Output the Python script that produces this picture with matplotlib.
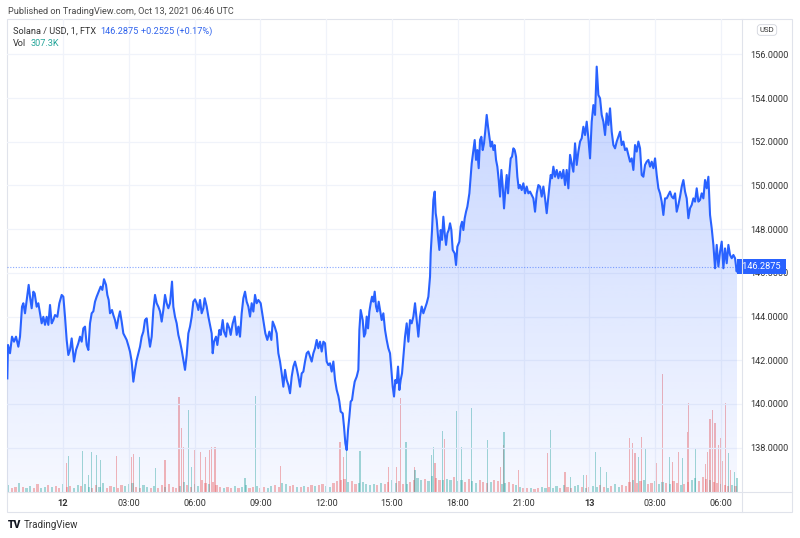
import numpy as np
import matplotlib.pyplot as plt
from matplotlib.lines import Line2D
from matplotlib.patches import Rectangle
import matplotlib.transforms as mtransforms

plt.rcParams["font.family"] = ["Roboto", "DejaVu Sans"]

# price path: hours since Oct 12 00:00 UTC, price in USD
hours = [
    -2.539, -2.508, -2.417, -2.326, -2.235, -2.143, -2.037, -1.961, -1.870, -1.809,
    -1.733, -1.657, -1.566, -1.505, -1.429, -1.353, -1.292, -1.201, -1.125, -1.049,
    -0.973, -0.897, -0.821, -0.745, -0.669, -0.593, -0.517, -0.441, -0.365, -0.259,
    -0.167, -0.061, 0.015, 0.091, 0.167, 0.243, 0.319, 0.395, 0.501, 0.593,
    0.699, 0.775, 0.851, 0.927, 1.003, 1.079, 1.155, 1.231, 1.307, 1.383,
    1.459, 1.535, 1.626, 1.717, 1.793, 1.869, 1.961, 2.021, 2.082, 2.143,
    2.234, 2.295, 2.371, 2.447, 2.523, 2.599, 2.675, 2.751, 2.827, 2.903,
    2.994, 3.055, 3.131, 3.207, 3.283, 3.359, 3.435, 3.511, 3.587, 3.663,
    3.739, 3.815, 3.891, 3.967, 4.043, 4.119, 4.195, 4.271, 4.347, 4.423,
    4.499, 4.575, 4.651, 4.727, 4.803, 4.879, 4.970, 5.031, 5.107, 5.183,
    5.259, 5.335, 5.411, 5.487, 5.563, 5.639, 5.715, 5.791, 5.867, 5.943,
    6.019, 6.095, 6.171, 6.247,
    6.323, 6.399, 6.460, 6.551, 6.627, 6.703, 6.779, 6.825, 6.885, 6.977,
    7.037, 7.129, 7.189, 7.281, 7.341, 7.433, 7.493, 7.585, 7.645, 7.737,
    7.828, 7.919, 7.995, 8.071, 8.147, 8.223, 8.299, 8.375, 8.451, 8.527,
    8.603, 8.679, 8.755, 8.831, 8.907, 9.013, 9.105, 9.165, 9.226, 9.317,
    9.409, 9.500, 9.561, 9.652, 9.743, 9.819, 9.895, 9.971, 10.047, 10.123,
    10.199, 10.275, 10.351, 10.427, 10.503, 10.579, 10.655, 10.731, 10.807, 10.883,
    10.959, 11.035, 11.111, 11.187, 11.263, 11.339, 11.415, 11.491, 11.567, 11.643,
    11.719, 11.795, 11.871, 11.947, 12.023, 12.099, 12.175, 12.251, 12.327, 12.403,
    12.479, 12.555, 12.601, 12.661, 12.753, 12.813, 12.874, 12.935, 12.996, 13.057,
    13.117, 13.178, 13.239, 13.300, 13.391, 13.467, 13.513, 13.573, 13.665, 13.725,
    13.786, 13.847, 13.908, 13.969, 14.029, 14.090, 14.151, 14.212, 14.272, 14.333,
    14.394, 14.455, 14.531, 14.607, 14.683, 14.759, 14.835, 14.911, 14.972, 15.033,
    15.093, 15.154, 15.215, 15.276, 15.337, 15.397, 15.458, 15.519, 15.595, 15.671,
    15.747, 15.823, 15.899, 15.975, 16.051, 16.127, 16.203, 16.279, 16.355, 16.431,
    16.507, 16.583, 16.659, 16.735,
    16.765, 16.826, 16.887, 16.948, 16.993, 17.039, 17.100, 17.161, 17.221, 17.282,
    17.343, 17.404, 17.465, 17.525, 17.586, 17.647, 17.708, 17.769, 17.860, 17.921,
    17.981, 18.073, 18.133, 18.194, 18.255, 18.316, 18.377, 18.437, 18.529, 18.589,
    18.635, 18.711, 18.772, 18.833, 18.893, 18.954, 19.015, 19.076, 19.137, 19.197,
    19.258, 19.319, 19.380, 19.441, 19.501, 19.562, 19.623, 19.684, 19.745, 19.805,
    19.866, 19.927, 19.988, 20.049, 20.109, 20.170, 20.231, 20.292, 20.353, 20.413,
    20.474, 20.535, 20.596, 20.657, 20.717, 20.778, 20.839, 20.915, 20.991, 21.067,
    21.143, 21.219, 21.295, 21.371, 21.447, 21.523, 21.599, 21.675, 21.751, 21.827,
    21.903, 21.979, 22.055, 22.116, 22.177, 22.237, 22.298, 22.359, 22.435, 22.511,
    22.587,
    22.663, 22.739, 22.815, 22.891, 22.967, 23.043, 23.119, 23.195, 23.271, 23.347,
    23.423, 23.499, 23.575, 23.651, 23.727, 23.803, 23.879, 23.955, 24.031, 24.107,
    24.183, 24.259, 24.335, 24.411, 24.487, 24.563, 24.639, 24.715, 24.791, 24.867,
    24.943, 25.019, 25.095, 25.171, 25.247, 25.323, 25.399, 25.475, 25.551, 25.627,
    25.703, 25.779, 25.855, 25.931, 26.007, 26.083, 26.159, 26.235, 26.311, 26.387,
    26.463, 26.539, 26.615, 26.691, 26.767, 26.843, 26.919, 26.995, 27.071, 27.147,
    27.223, 27.299, 27.375, 27.451, 27.527, 27.603, 27.679, 27.755, 27.831, 27.907,
    27.983, 28.059, 28.135, 28.211, 28.287, 28.363, 28.439, 28.515, 28.591, 28.667,
    28.743, 28.819, 28.895, 28.971, 29.047, 29.123, 29.199, 29.275, 29.351, 29.427,
    29.503, 29.579, 29.655, 29.731, 29.807, 29.883, 29.959, 30.035, 30.111, 30.187,
    30.263, 30.339, 30.415, 30.491, 30.567, 30.643, 30.719, 30.740,
]
price = [
    141.17, 142.70, 142.32, 143.08, 142.85, 143.08, 142.62, 143.08, 144.45, 144.61,
    144.15, 144.76, 145.45, 144.91, 144.38, 145.14, 145.06, 144.45, 144.61, 144.15,
    143.69, 143.99, 143.62, 143.99, 143.62, 144.53, 143.69, 143.84, 144.07, 143.99,
    144.61, 144.99, 144.91, 143.99, 142.93, 142.24, 142.47, 143.00, 141.94, 142.47,
    142.78, 143.08, 142.85, 143.46, 143.54, 142.70, 142.47, 143.69, 144.15, 144.24,
    144.68, 144.91, 145.14, 145.37, 145.22, 145.71, 145.45, 144.99, 144.76, 144.15,
    144.30, 144.07, 143.84, 143.46, 143.92, 144.24, 143.77, 143.23, 143.08, 142.93,
    142.62, 142.39, 141.94, 141.02, 141.56, 142.01, 142.32, 142.62, 143.08, 143.31,
    143.84, 143.92, 143.16, 142.62, 143.08, 144.30, 144.99, 144.61, 144.45, 144.24,
    143.77, 144.30, 144.99, 144.61, 144.38, 144.61, 145.60, 144.45, 143.99, 143.69,
    143.16, 142.85, 142.47, 142.01, 141.56, 142.24, 143.23, 143.54, 143.99, 144.68,
    144.79, 144.61, 144.30, 144.76,
    144.15, 144.38, 144.84, 144.46, 144.00, 143.62, 143.23, 142.32, 142.85, 143.08,
    142.70, 143.39, 143.16, 143.84, 143.31, 143.08, 143.69, 143.46, 143.16, 143.69,
    144.00, 143.16, 143.54, 143.08, 144.15, 144.84, 145.14, 144.68, 144.46, 144.00,
    144.61, 144.23, 144.99, 144.61, 144.76, 144.61, 144.00, 143.62, 143.23, 142.93,
    143.31, 142.93, 143.77, 143.54, 143.23, 142.32, 141.94, 141.40, 140.79, 141.56,
    141.10, 140.87, 140.49, 141.25, 141.71, 141.94, 141.63, 141.25, 140.79, 141.40,
    141.48, 141.94, 142.32, 142.40, 142.17, 141.94, 142.32, 142.55, 142.93, 142.55,
    142.85, 142.40, 142.85, 142.78, 141.94, 141.78, 141.86, 141.48, 141.94, 141.10,
    140.64, 140.36, 140.11, 139.65, 139.57, 138.96, 138.20, 137.89, 138.81, 139.42,
    140.11, 140.18, 140.64, 141.02, 141.25, 141.56, 143.39, 144.30, 143.84, 143.08,
    143.23, 144.00, 143.46, 144.23, 144.61, 144.91, 144.68, 145.14, 144.46, 144.23,
    144.68, 144.30, 143.84, 144.15, 143.39, 142.93, 142.55, 142.32, 141.56, 140.79,
    140.34, 141.10, 140.95, 141.71, 140.64, 141.10, 141.40, 142.17, 143.08, 143.69,
    142.85, 143.84, 143.69, 144.00, 144.61, 143.84, 143.08, 144.00, 144.46, 144.15,
    144.38, 144.61, 144.91, 145.83,
    146.89, 147.96, 149.34, 149.72, 148.73, 148.42, 147.66, 147.05, 147.96, 147.51,
    148.57, 147.81, 147.28, 147.81, 147.96, 148.27, 147.96, 147.05, 146.89, 146.36,
    147.20, 147.43, 148.12, 148.34, 147.96, 148.50, 148.80, 149.03, 149.64, 150.40,
    151.01, 151.62, 152.08, 151.17, 151.62, 150.79, 152.08, 152.23, 151.62, 151.93,
    152.54, 153.23, 152.69, 152.23, 151.78, 152.01, 151.62, 151.85, 151.17, 150.86,
    150.25, 149.49, 150.71, 149.95, 148.95, 149.79, 150.48, 149.64, 150.56, 151.24,
    151.32, 151.70, 151.62, 151.32, 150.40, 149.87, 150.02, 149.79, 150.10, 149.64,
    149.95, 149.64, 149.72, 149.56, 149.41, 148.80, 149.64, 150.02, 149.95, 149.49,
    149.95, 149.41, 148.73, 149.34, 149.95, 150.48, 150.33, 150.86, 150.40, 150.71,
    150.33,
    150.63, 150.33, 150.71, 150.02, 150.71, 149.87, 151.40, 151.01, 150.63, 151.93,
    150.94, 151.55, 152.01, 152.16, 152.69, 152.31, 152.92, 152.16, 151.24, 152.92,
    153.68, 153.23, 155.44, 154.14, 153.99, 153.23, 152.92, 152.31, 153.30, 152.77,
    153.53, 152.46, 151.85, 151.70, 152.01, 152.24, 152.46, 151.85, 152.01, 151.62,
    151.70, 151.40, 151.09, 151.24, 150.71, 151.85, 151.55, 152.01, 151.70, 150.48,
    150.40, 150.94, 151.09, 151.17, 150.86, 151.09, 150.79, 151.24, 150.48, 149.87,
    149.64, 149.26, 148.65, 149.41, 149.41, 149.57, 149.72, 149.49, 149.41, 149.64,
    148.80, 149.11, 149.49, 149.95, 150.25, 149.72, 149.41, 148.50, 148.96, 149.11,
    149.41, 149.26, 149.87, 149.26, 149.34, 149.64, 149.41, 150.25, 149.87, 150.40,
    148.65, 148.04, 147.28, 146.21, 147.28, 146.29, 146.97, 147.43, 146.21, 147.12,
    146.44, 147.28, 146.82, 146.67, 146.82, 146.67, 146.06, 146.2875,
]
assert len(hours) == len(price)

last_price = 146.2875

# background volume (thousands), one bar per 10 minutes from 21:30 Oct 11
vol_start = -2.5
vol_step = 1 / 6
base_vol = [
    150, 90, 120, 200, 110, 80, 140, 100, 170, 90, 120, 160, 110, 130, 90, 180, 120, 140, 100, 150,
    130, 170, 110, 90, 150, 120, 200, 100, 140, 110, 90, 160, 130, 180, 210, 120, 100, 150, 110, 90,
    130, 100, 150, 120, 180, 110, 90, 140, 230, 160, 120, 190, 140, 260, 210, 170, 230, 150, 120, 100,
    110, 90, 130, 100, 120, 150, 90, 110, 130, 100, 120, 90, 140, 160, 110, 200, 180, 130, 150, 120,
    110, 140, 120, 160, 130, 150, 180, 140, 120, 200, 240, 260, 300, 220, 250, 180, 200, 230, 170, 150,
    180, 160, 200, 170, 230, 260, 210, 250, 190, 170, 230, 280, 320, 270, 300, 240, 350, 310, 280, 260,
    300, 260, 330, 240, 280, 230, 300, 250, 210, 260, 230, 200, 220, 280, 240, 190, 210, 230, 170, 150,
    110, 90, 80, 100, 70, 90, 120, 80, 110, 90, 130, 100, 150, 120, 90, 140, 160, 120, 100, 110,
    130, 110, 150, 120, 100, 140, 170, 120, 150, 130, 220, 260, 200, 240, 280, 180, 210, 250, 190, 230,
    200, 180, 240, 210, 160, 190, 230, 280, 310, 250, 330, 290, 260, 230, 200, 170, 150, 140, 160, 130,
]
base_dir = (
    "udduduudduududdudduu"
    "duudduuddudduuudduud"
    "udduddduudduuddudddu"
    "dduduuddudduudduuddu"
    "duddudduuddddudduuuu"
    "ududduuddudduuduuddu"
    "uuduudduudddudduuddu"
    "uddudduuduududduudud"
    "uudduduuddduddudduuu"
    "duddudduudddudduddud"
)
assert len(base_vol) == len(base_dir)

# taller volume bars (thousands)
spike_hours = [
    0.17, 0.24, 0.90, 1.15, 1.31, 1.54, 1.69, 2.42, 3.13, 3.21,
    3.48, 4.20, 4.65, 5.29, 5.41, 5.49, 5.71, 5.87, 6.02, 6.25,
    6.48, 6.67, 6.78, 6.93, 8.30, 8.76, 9.90, 12.63, 12.78, 12.94,
    13.54, 14.83, 15.21, 15.37, 15.64, 16.01, 16.05, 16.81, 16.89, 16.96,
    17.31, 17.39, 17.95, 18.18, 18.64, 19.35, 19.93, 20.08, 20.11, 20.76,
    22.10, 22.21, 22.89, 23.12, 23.73, 23.88, 24.30, 24.49, 24.79, 25.85,
    25.98, 26.08, 26.23, 26.36, 26.58, 27.04, 27.35, 27.65, 27.80, 28.06,
    28.26, 28.47, 28.51, 28.86, 29.30, 29.40, 29.50, 29.63, 29.73, 29.88,
    29.99, 30.05, 30.19, 30.34, 30.45, 30.60, 30.73,
]
spike_vol = [
    650, 806, 920, 380, 900, 830, 717, 806, 790, 850,
    790, 540, 717, 2130, 1430, 1010, 1840, 570, 940, 900,
    790, 940, 1000, 1000, 310, 2150, 580, 1130, 790, 940,
    920, 570, 560, 2100, 1130, 570, 490, 830, 1010, 640,
    1370, 1180, 1820, 1000, 1890, 1160, 570, 1050, 1350, 490,
    870, 1390, 450, 340, 380, 380, 900, 570, 450, 1200,
    1090, 870, 790, 1240, 980, 640, 2640, 790, 680, 900,
    760, 1350, 1990, 980, 620, 900, 1630, 1840, 1540, 1050,
    1200, 700, 2000, 870, 500, 450, 307.3,
]
spike_dir = (
    "duuuuuuddd"
    "uudddduudd"
    "dddduudddu"
    "uddduduuud"
    "uduuuuddud"
    "duduuduuud"
    "ddududdudd"
    "uddudddddd"
    "ddduduu"
)
assert len(spike_hours) == len(spike_vol) == len(spike_dir)

tick_hours = [0, 3, 6, 9, 12, 15, 18, 21, 24, 27, 30]
tick_labels = ["12", "03:00", "06:00", "09:00", "12:00", "15:00",
               "18:00", "21:00", "13", "03:00", "06:00"]
price_ticks = [138, 140, 142, 144, 146, 148, 150, 152, 154, 156]

W, H = 800, 538
fig = plt.figure(figsize=(W / 100, H / 100), dpi=100)
fig.patch.set_facecolor("white")


def fx(x):
    return x / W


def fy(y):
    return 1 - y / H


# pane area in pixels: x 7..742, y 19..492
rect = [fx(7), fy(492), (742 - 7) / W, (492 - 19) / H]
vax = fig.add_axes(rect)
ax = fig.add_axes(rect)
ax.set_zorder(vax.get_zorder() + 1)
ax.patch.set_visible(False)

xmin, xmax = -2.554, 30.96
ymin, ymax = 135.97, 157.62

# volume
up_c, dn_c = "#26a69a", "#ef5350"
vol_hours = vol_start + vol_step * np.arange(len(base_vol))
vcols = [up_c if d == "u" else dn_c for d in base_dir]
vax.bar(vol_hours, base_vol, width=0.1, color=vcols, alpha=0.4, linewidth=0)
scols = [up_c if d == "u" else dn_c for d in spike_dir]
vax.bar(spike_hours, spike_vol, width=0.05, color=scols, alpha=0.42, linewidth=0)
vax.set_xlim(xmin, xmax)
vax.set_ylim(0, 10600)
vax.axis("off")

# gradient area under the line
rgba = np.zeros((256, 1, 4))
rgba[..., 0], rgba[..., 1], rgba[..., 2] = 41 / 255, 98 / 255, 1.0
rgba[..., 3] = np.linspace(0.28, 0.04, 256)[:, None]
im = ax.imshow(rgba, extent=[hours[0], hours[-1], ymin, max(price)],
               aspect="auto", origin="upper", zorder=2, interpolation="bilinear")
poly = ax.fill_between(hours, price, ymin, color="none", linewidth=0)
im.set_clip_path(poly.get_paths()[0], transform=ax.transData)

ax.plot(hours, price, color="#2962ff", linewidth=1.5, zorder=4,
        solid_joinstyle="round")
ax.axhline(last_price, color="#2962ff", linewidth=0.8, linestyle=(0, (1, 1.5)),
           alpha=0.55, zorder=3)

ax.set_xlim(xmin, xmax)
ax.set_ylim(ymin, ymax)

# grid
for h in tick_hours:
    ax.axvline(h, color="#f0f3fa", linewidth=0.9, zorder=1)
for p in price_ticks:
    ax.axhline(p, color="#f0f3fa", linewidth=0.9, zorder=1)

for s in ax.spines.values():
    s.set_visible(False)

ax.yaxis.tick_right()
ax.set_yticks(price_ticks)
ax.set_yticklabels([f"{p:.4f}" for p in price_ticks])
ax.tick_params(axis="y", length=0, pad=6, labelsize=6.6, labelcolor="#333333")
ax.set_xticks(tick_hours)
ax.set_xticklabels(tick_labels)
ax.tick_params(axis="x", length=0, pad=5, labelsize=6.6, labelcolor="#333333")
for lbl in ax.get_xticklabels():
    if lbl.get_text() in ("12", "13"):
        lbl.set_fontweight("bold")

# last price tag on the scale, drawn over the 146.0000 label as in the original
trans = mtransforms.blended_transform_factory(ax.transAxes, ax.transData)
ax.text((740 - 7) / 735, last_price, " 146.2875 ", transform=trans,
        ha="left", va="center", fontsize=6.6, color="white", zorder=6,
        bbox=dict(boxstyle="square,pad=0.3", fc="#2962ff", ec="none"),
        clip_on=False)

# frame lines
border = "#e0e3eb"
fig.add_artist(Rectangle((fx(7), fy(512)), (792 - 7) / W, (512 - 19) / H,
                         transform=fig.transFigure, fill=False,
                         edgecolor=border, linewidth=0.8))
fig.add_artist(Line2D([fx(742), fx(742)], [fy(19), fy(512)],
                      transform=fig.transFigure, color=border, linewidth=0.8))
fig.add_artist(Line2D([fx(7), fx(792)], [fy(492), fy(492)],
                      transform=fig.transFigure, color=border, linewidth=0.8))

# header texts
fig.text(fx(8), fy(11), "Published on TradingView.com, Oct 13, 2021 06:46 UTC",
         fontsize=6.6, color="#4a4a4a", va="center")
fig.text(fx(13), fy(31), "Solana / USD, 1, FTX", fontsize=6.6,
         color="#333333", va="center")
fig.text(fx(100), fy(31), "146.2875", fontsize=6.6, color="#2f63ec", va="center")
fig.text(fx(141), fy(31), "+0.2525 (+0.17%)", fontsize=6.6, color="#2f63ec",
         va="center")
fig.text(fx(13), fy(44), "Vol", fontsize=6.6, color="#333333", va="center")
fig.text(fx(31), fy(44), "307.3K", fontsize=6.6, color="#26a69a", va="center")

fig.text(fx(767), fy(30), "USD", fontsize=5.6, color="#333333", ha="center",
         va="center",
         bbox=dict(boxstyle="round,pad=0.3,rounding_size=0.4", fc="white",
                   ec="#d1d4dc", lw=0.6))

# footer logo
fig.text(fx(8), fy(525), "TV", fontsize=7.5, fontweight="heavy",
         color="#131722", va="center")
fig.text(fx(24), fy(525), "TradingView", fontsize=7, color="#333333",
         va="center")

fig.savefig("out.png", dpi=100, facecolor="white")
